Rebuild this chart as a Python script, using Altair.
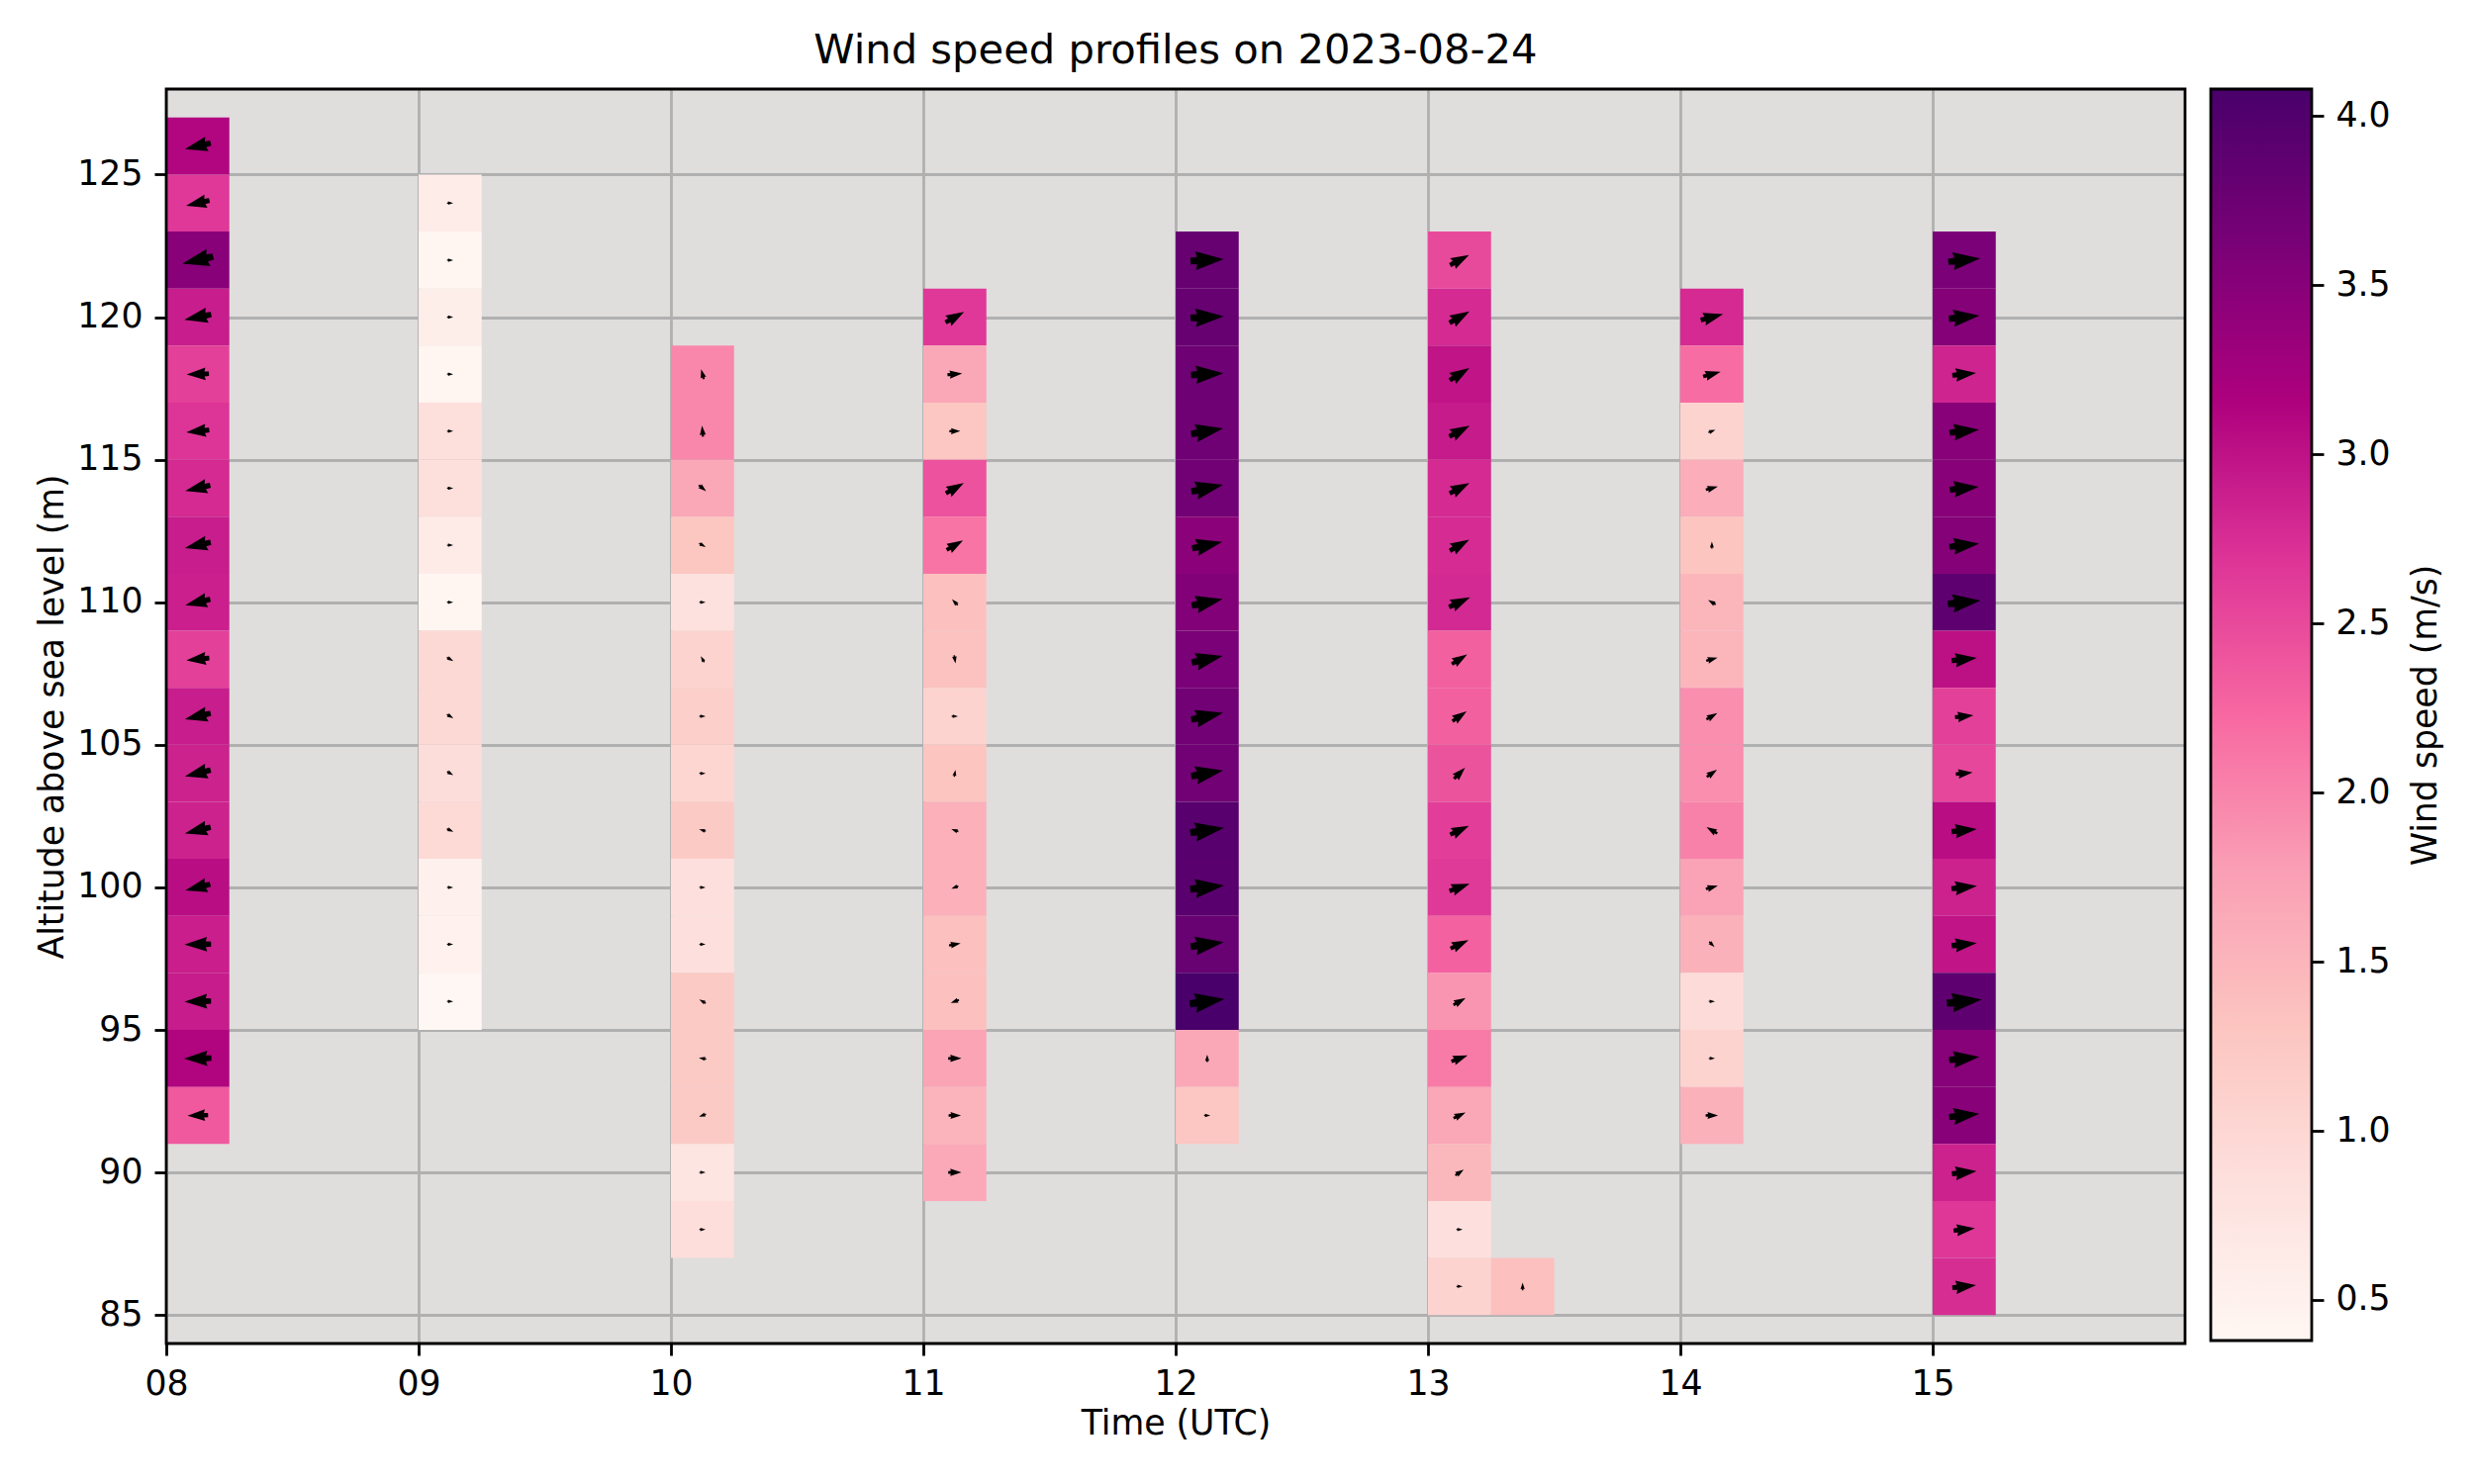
import altair as alt
import pandas as pd

# ---------------- data ----------------
# column start time (hour), altitude of top cell centre (m)
col_start = [8.0, 9.0, 10.0, 11.0, 12.0, 13.0, 13.25, 14.0, 15.0]
col_top = [126, 124, 118, 120, 122, 122, 86, 120, 122]

# wind speed (m/s), top cell first
speed_08 = [3.12, 2.66, 3.49, 2.90, 2.59, 2.69, 2.78, 2.90, 2.88, 2.59, 2.90, 2.86, 2.86, 3.05, 2.89, 2.91, 3.13, 2.36]
speed_09 = [0.60, 0.40, 0.57, 0.43, 0.86, 0.86, 0.64, 0.40, 0.96, 0.97, 0.89, 0.95, 0.50, 0.48, 0.38]
speed_10 = [1.97, 1.97, 1.67, 1.29, 0.83, 1.06, 1.13, 1.03, 1.22, 0.84, 0.84, 1.22, 1.22, 1.22, 0.74, 0.88]
speed_11 = [2.66, 1.67, 1.28, 2.43, 2.13, 1.36, 1.34, 1.07, 1.31, 1.56, 1.56, 1.37, 1.37, 1.71, 1.51, 1.64]
speed_12 = [3.80, 3.80, 3.73, 3.71, 3.69, 3.47, 3.55, 3.62, 3.69, 3.69, 3.94, 3.92, 3.79, 4.08, 1.66, 1.28]
speed_13 = [2.50, 2.78, 2.98, 2.92, 2.78, 2.77, 2.79, 2.30, 2.30, 2.42, 2.60, 2.64, 2.29, 1.85, 2.08, 1.67, 1.46, 0.84, 1.06]
speed_1315 = [1.36]
speed_14 = [2.78, 2.19, 1.06, 1.60, 1.31, 1.49, 1.49, 1.91, 1.91, 2.02, 1.72, 1.55, 0.92, 1.06, 1.55]
speed_15 = [3.62, 3.53, 2.84, 3.49, 3.49, 3.52, 3.88, 3.02, 2.58, 2.52, 3.05, 2.86, 2.98, 3.87, 3.50, 3.49, 2.86, 2.67, 2.76]

# direction the arrow points (degrees, counter-clockwise from east)
dir_08 = [193, 193, 193, 191, 182, 186, 193, 193, 193, 186, 193, 194, 194, 194, 181, 181, 181, 182]
dir_09 = [0, 0, 0, 0, 0, 0, 0, 0, 330, 330, 330, 335, 0, 0, 0]
dir_10 = [105, 95, 320, 330, 0, 120, 0, 0, 165, 0, 0, 150, 170, 200, 0, 0]
dir_11 = [30, 5, 0, 30, 30, 135, 280, 0, 80, 160, 200, 10, 200, 0, 0, 0]
dir_12 = [3, 3, 3, 10, 12, 12, 12, 12, 12, 10, 8, 6, 8, 8, 90, 0]
dir_13 = [28, 30, 32, 28, 28, 30, 25, 32, 35, 45, 25, 20, 25, 30, 20, 25, 35, 0, 0]
dir_1315 = [90]
dir_14 = [15, 15, 20, 15, 90, 150, 15, 30, 35, 150, 15, 315, 0, 0, 0]
dir_15 = [6] * 19

# horizontal wind magnitude shown by the arrows (m/s)
hmag_08 = [3.0, 2.7, 3.6, 3.1, 2.5, 2.6, 2.9, 3.0, 2.9, 2.6, 3.0, 3.0, 3.0, 2.9, 3.0, 3.0, 3.1, 2.3]
hmag_09 = [0.35, 0.35, 0.35, 0.35, 0.35, 0.35, 0.35, 0.35, 0.6, 0.6, 0.55, 0.55, 0.35, 0.35, 0.35]
hmag_10 = [1.0, 1.1, 0.9, 0.6, 0.35, 0.5, 0.35, 0.35, 0.5, 0.35, 0.35, 0.6, 0.6, 0.6, 0.35, 0.35]
hmag_11 = [2.4, 1.6, 1.1, 2.3, 2.1, 0.7, 0.7, 0.35, 0.5, 0.6, 0.6, 1.2, 0.8, 1.4, 1.3, 1.4]
hmag_12 = [3.8, 3.8, 3.7, 3.7, 3.7, 3.5, 3.6, 3.6, 3.7, 3.7, 3.9, 3.9, 3.8, 4.0, 0.6, 0.35]
hmag_13 = [2.4, 2.6, 2.6, 2.6, 2.5, 2.5, 2.6, 2.0, 1.9, 1.7, 2.3, 2.4, 2.2, 1.5, 1.9, 1.4, 1.0, 0.35, 0.35]
hmag_1315 = [0.6]
hmag_14 = [2.6, 2.0, 0.6, 1.3, 0.5, 0.8, 1.2, 1.3, 1.3, 1.3, 1.3, 0.6, 0.35, 0.35, 1.3]
hmag_15 = [3.65, 3.5, 2.7, 3.35, 3.3, 3.4, 3.75, 2.85, 2.05, 1.85, 2.85, 2.9, 2.85, 4.0, 3.45, 3.45, 2.8, 2.4, 2.7]

speeds = [speed_08, speed_09, speed_10, speed_11, speed_12, speed_13, speed_1315, speed_14, speed_15]
dirs = [dir_08, dir_09, dir_10, dir_11, dir_12, dir_13, dir_1315, dir_14, dir_15]
hmags = [hmag_08, hmag_09, hmag_10, hmag_11, hmag_12, hmag_13, hmag_1315, hmag_14, hmag_15]

x_ticks = [8, 9, 10, 11, 12, 13, 14, 15]
y_ticks = [85, 90, 95, 100, 105, 110, 115, 120, 125]
cbar_ticks = [0.5, 1.0, 1.5, 2.0, 2.5, 3.0, 3.5, 4.0]
vmin, vmax = 0.38, 4.08

rows = []
for t0, top, sp, dr, hm in zip(col_start, col_top, speeds, dirs, hmags):
    for i, (s, d, h) in enumerate(zip(sp, dr, hm)):
        rows.append({"t": t0, "alt": top - 2 * i, "speed": s, "dir": d, "hmag": h})
df = pd.DataFrame(rows)

# matplotlib RdPu
RDPU = ["#fff7f3", "#fde0dd", "#fcc5c0", "#fa9fb5", "#f768a1",
        "#dd3497", "#ae017e", "#7a0177", "#49006a"]
color_domain = [vmin + (vmax - vmin) * i / 8 for i in range(9)]

FONT = "DejaVu Sans"
W, H = 2040, 1268
ARROW = "M 1,0 L -0.7,-0.56 L -0.6,-0.22 L -1,-0.2 L -1,0.2 L -0.6,0.22 L -0.7,0.56 Z"

base = alt.Chart(df)

x_axis = alt.Axis(values=x_ticks, title="Time (UTC)",
                  labelExpr="datum.value < 10 ? '0' + datum.value : '' + datum.value",
                  grid=True, labelFlush=False, titlePadding=7)
y_axis = alt.Axis(values=y_ticks, title="Altitude above sea level (m)", grid=True,
                  labelFlush=False, titlePadding=7)
x_scale = alt.Scale(domain=[8, 16], nice=False, zero=False)
y_scale = alt.Scale(domain=[84, 128], nice=False, zero=False)

cells = base.transform_calculate(
    x0="datum.t", x1="datum.t + 0.25", y0="datum.alt - 1", y1="datum.alt + 1"
).mark_rect().encode(
    x=alt.X("x0:Q", scale=x_scale, axis=x_axis, title="Time (UTC)"),
    x2="x1:Q",
    y=alt.Y("y0:Q", scale=y_scale, axis=y_axis, title="Altitude above sea level (m)"),
    y2="y1:Q",
    color=alt.Color("speed:Q", scale=alt.Scale(domain=color_domain, range=RDPU, interpolate="rgb"),
                    legend=None),
)

arrows = base.transform_calculate(
    xc="datum.t + 0.125", vangle="(360 - datum.dir) % 360"
).mark_point(shape=ARROW, filled=True, color="black", opacity=1, strokeWidth=0).encode(
    x=alt.X("xc:Q", scale=x_scale, title="Time (UTC)"),
    y=alt.Y("alt:Q", scale=y_scale, title="Altitude above sea level (m)"),
    angle=alt.Angle("vangle:Q", scale=None),
    size=alt.Size("hmag:Q", scale=alt.Scale(type="pow", exponent=2, domain=[0, 4], range=[30, 1250]),
                  legend=None),
)

frame = alt.Chart(pd.DataFrame({"k": [0]})).mark_rect(
    fillOpacity=0, stroke="black", strokeWidth=2.8
).encode(x=alt.value(0), x2=alt.value(W), y=alt.value(0), y2=alt.value(H))

main = alt.layer(cells, arrows, frame).properties(
    width=W, height=H,
    title=alt.Title("Wind speed profiles on 2023-08-24", fontSize=41.7, font=FONT,
                    fontWeight="normal", color="black", anchor="middle",
                    baseline="alphabetic", offset=-17),
    view=alt.ViewBackground(fill="#e0dddd", stroke="transparent"),
)

cb_df = pd.DataFrame({"lo": [vmin], "hi": [vmax]})
grad = alt.LinearGradient(
    gradient="linear",
    stops=[alt.GradientStop(offset=i / 8, color=c) for i, c in enumerate(RDPU)],
    x1=0, x2=0, y1=1, y2=0,
)
cbar = alt.Chart(cb_df).mark_rect(color=grad, stroke="black", strokeWidth=2.8).encode(
    x=alt.value(0), x2=alt.value(102),
    y=alt.Y("lo:Q", scale=alt.Scale(domain=[vmin, vmax], nice=False, zero=False),
            axis=alt.Axis(orient="right", values=cbar_ticks, format=".1f",
                          title="Wind speed (m/s)", titleAngle=270, titleBaseline="top",
                          grid=False, titlePadding=19, labelFlush=False)),
    y2="hi:Q",
).properties(width=102, height=1265, view=alt.ViewBackground(stroke="transparent"))

chart = alt.hconcat(main, cbar, spacing=26, bounds="flush").properties(
    padding={"left": 27, "top": 22, "right": 10, "bottom": 10}
).configure(font=FONT, background="white").configure_axis(
    labelFont=FONT, titleFont=FONT, labelFontSize=34.7, titleFontSize=34.7,
    labelColor="black", titleColor="black", titleFontWeight="normal",
    tickColor="black", tickWidth=2.8, tickSize=12, labelPadding=12,
    domain=False, gridColor="#b0b0b0", gridWidth=2.8,
).configure_view(stroke="transparent")

chart.save("out.html", embed_options={"renderer": "svg", "actions": False})
